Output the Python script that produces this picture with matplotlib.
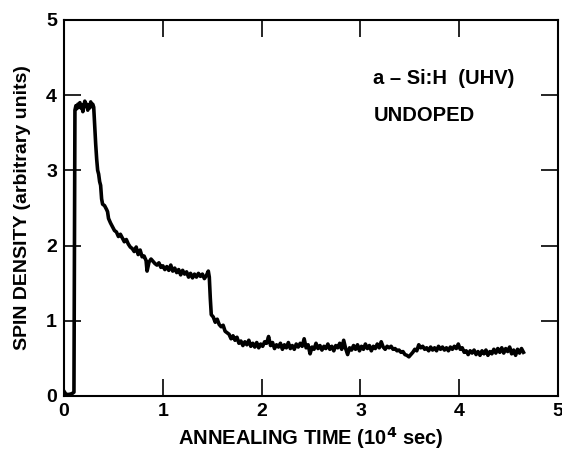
import matplotlib
matplotlib.use("Agg")
import matplotlib.pyplot as plt

# annealing time (10^4 sec) and spin density
time = [0.00, 0.02, 0.05, 0.08, 0.10, 0.11, 0.12, 0.13, 0.14, 0.15, 0.16, 0.17, 0.18, 0.19,
        0.20, 0.21, 0.22, 0.23, 0.24, 0.25, 0.26, 0.27, 0.28, 0.29, 0.30, 0.31, 0.32, 0.33,
        0.34, 0.35, 0.36, 0.37, 0.38, 0.39, 0.41, 0.43, 0.44, 0.45, 0.47, 0.49, 0.51, 0.53,
        0.55, 0.57, 0.59, 0.61, 0.63, 0.65, 0.67, 0.69, 0.71, 0.73, 0.75, 0.77, 0.79, 0.81,
        0.83, 0.84, 0.86, 0.88, 0.90, 0.92, 0.94, 0.96, 0.98, 1.00, 1.02, 1.04, 1.06, 1.08,
        1.10, 1.12, 1.14, 1.16, 1.18, 1.20, 1.22, 1.24, 1.26, 1.28, 1.30, 1.32, 1.34, 1.36,
        1.38, 1.40, 1.42, 1.44, 1.46, 1.47, 1.48, 1.49, 1.51, 1.53, 1.55, 1.57, 1.59, 1.61,
        1.63, 1.65, 1.67, 1.69, 1.71, 1.73, 1.75, 1.77, 1.79, 1.81, 1.83, 1.85, 1.87, 1.89,
        1.91, 1.93, 1.95, 1.97, 1.99, 2.01, 2.03, 2.05, 2.07, 2.09, 2.11, 2.13, 2.15, 2.17,
        2.19, 2.21, 2.23, 2.25, 2.27, 2.29, 2.31, 2.33, 2.35, 2.37, 2.39, 2.41, 2.43, 2.45,
        2.47, 2.49, 2.51, 2.53, 2.55, 2.57, 2.59, 2.61, 2.63, 2.65, 2.67, 2.69, 2.71, 2.73,
        2.75, 2.77, 2.79, 2.81, 2.83, 2.85, 2.87, 2.89, 2.91, 2.93, 2.95, 2.97, 2.99, 3.01,
        3.03, 3.05, 3.07, 3.09, 3.11, 3.13, 3.15, 3.17, 3.19, 3.21, 3.23, 3.25, 3.27, 3.29,
        3.31, 3.33, 3.35, 3.37, 3.39, 3.41, 3.43, 3.45, 3.47, 3.49, 3.51, 3.53, 3.55, 3.57,
        3.59, 3.61, 3.63, 3.65, 3.67, 3.69, 3.71, 3.73, 3.75, 3.77, 3.79, 3.81, 3.83, 3.85,
        3.87, 3.89, 3.91, 3.93, 3.95, 3.97, 3.99, 4.01, 4.03, 4.05, 4.07, 4.09, 4.11, 4.13,
        4.15, 4.17, 4.19, 4.21, 4.23, 4.25, 4.27, 4.29, 4.31, 4.33, 4.35, 4.37, 4.39, 4.41,
        4.43, 4.45, 4.47, 4.49, 4.51, 4.53, 4.55, 4.57, 4.59, 4.61, 4.63, 4.65]
density = [0.06, 0.02, 0.02, 0.03, 0.05, 3.80, 3.86, 3.82, 3.88, 3.84, 3.90, 3.83, 3.87, 3.78,
           3.86, 3.92, 3.85, 3.88, 3.80, 3.87, 3.83, 3.91, 3.85, 3.88, 3.84, 3.60, 3.35, 3.15,
           3.00, 2.95, 2.85, 2.80, 2.62, 2.55, 2.53, 2.48, 2.45, 2.36, 2.30, 2.25, 2.20, 2.18,
           2.12, 2.15, 2.10, 2.05, 2.08, 2.02, 1.98, 1.96, 1.92, 1.98, 1.88, 1.94, 1.85, 1.86,
           1.80, 1.66, 1.78, 1.82, 1.79, 1.76, 1.74, 1.77, 1.71, 1.73, 1.68, 1.72, 1.67, 1.74,
           1.66, 1.70, 1.64, 1.68, 1.61, 1.67, 1.62, 1.65, 1.58, 1.63, 1.57, 1.62, 1.58, 1.63,
           1.59, 1.62, 1.56, 1.60, 1.66, 1.58, 1.30, 1.08, 1.05, 0.98, 1.02, 0.95, 0.92, 0.94,
           0.86, 0.84, 0.82, 0.76, 0.80, 0.74, 0.78, 0.70, 0.73, 0.67, 0.72, 0.68, 0.74, 0.66,
           0.70, 0.65, 0.71, 0.64, 0.69, 0.66, 0.72, 0.70, 0.79, 0.67, 0.71, 0.63, 0.68, 0.65,
           0.70, 0.62, 0.68, 0.64, 0.71, 0.63, 0.67, 0.62, 0.69, 0.65, 0.70, 0.66, 0.76, 0.64,
           0.68, 0.56, 0.65, 0.62, 0.70, 0.63, 0.67, 0.61, 0.66, 0.63, 0.69, 0.62, 0.66, 0.60,
           0.67, 0.64, 0.70, 0.62, 0.74, 0.63, 0.55, 0.64, 0.61, 0.67, 0.62, 0.68, 0.60, 0.66,
           0.62, 0.69, 0.63, 0.67, 0.60, 0.66, 0.63, 0.69, 0.64, 0.72, 0.65, 0.62, 0.66, 0.64,
           0.66, 0.62, 0.63, 0.60, 0.61, 0.58, 0.59, 0.55, 0.54, 0.52, 0.55, 0.58, 0.62, 0.60,
           0.68, 0.64, 0.66, 0.62, 0.64, 0.60, 0.65, 0.61, 0.64, 0.60, 0.66, 0.62, 0.65, 0.61,
           0.64, 0.60, 0.65, 0.62, 0.66, 0.63, 0.69, 0.62, 0.64, 0.58, 0.60, 0.55, 0.60, 0.57,
           0.61, 0.55, 0.59, 0.54, 0.60, 0.56, 0.61, 0.54, 0.59, 0.56, 0.62, 0.57, 0.63, 0.58,
           0.64, 0.57, 0.63, 0.59, 0.65, 0.56, 0.61, 0.54, 0.62, 0.57, 0.63, 0.58]

xticks = [0, 1, 2, 3, 4, 5]
yticks = [0, 1, 2, 3, 4, 5]

plt.rcParams['font.family'] = ['Liberation Sans', 'DejaVu Sans']
plt.rcParams['font.weight'] = 'bold'

fig = plt.figure(figsize=(5.62, 4.53), dpi=100)
ax = fig.add_axes([0.114, 0.126, 0.879, 0.830])

ax.plot(time, density, 'k', linewidth=2.6)

ax.set_xlim(0, 5)
ax.set_ylim(0, 5)
ax.set_xticks(xticks)
ax.set_yticks(yticks)
ax.tick_params(direction='in', length=12, width=1.2, labelsize=14,
               top=True, right=True, pad=5)
for lab in ax.get_xticklabels() + ax.get_yticklabels():
    lab.set_fontweight('bold')
for s in ax.spines.values():
    s.set_linewidth(1.5)

ax.set_xlabel('ANNEALING TIME (10$^{\\mathbf{4}}$ sec)', fontsize=14.5, fontweight='bold', labelpad=4)
ax.set_ylabel('SPIN DENSITY (arbitrary units)', fontsize=14, fontweight='bold', labelpad=11)

ax.text(3.13, 4.15, 'a \u2013 Si:H  (UHV)', fontsize=14.5, fontweight='bold')
ax.text(3.13, 3.65, 'UNDOPED', fontsize=14.5, fontweight='bold')

fig.savefig('out.png', dpi=100)
